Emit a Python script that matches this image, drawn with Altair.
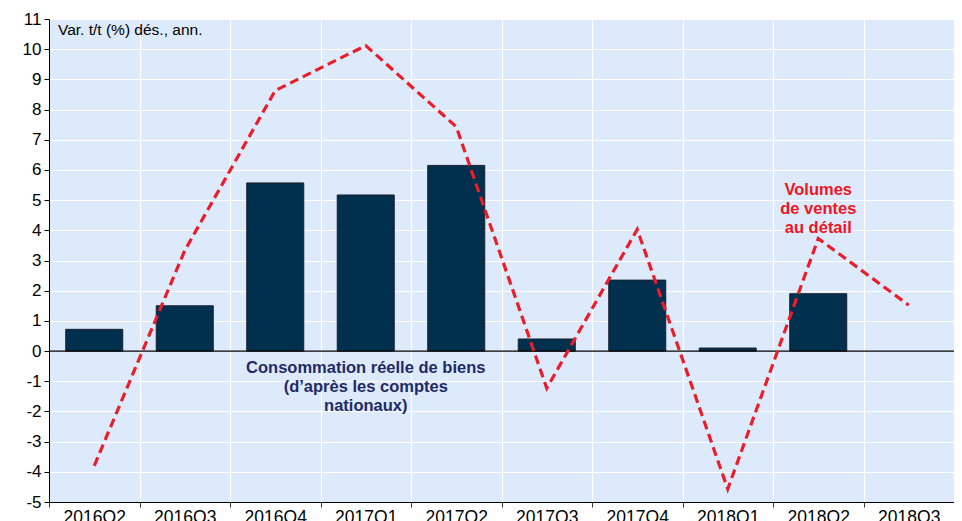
import altair as alt
import pandas as pd

quarters = ["2016Q2", "2016Q3", "2016Q4", "2017Q1", "2017Q2",
            "2017Q3", "2017Q4", "2018Q1", "2018Q2", "2018Q3"]
conso = [0.72, 1.5, 5.57, 5.17, 6.15, 0.4, 2.35, 0.1, 1.9, None]
ventes = [-3.8, 3.33, 8.63, 10.12, 7.43, -1.23, 4.03, -4.57, 3.73, 1.52]
y_ticks = list(range(-5, 12))

df = pd.DataFrame({"q": quarters, "conso": conso, "ventes": ventes})

x_scale = alt.Scale(domain=quarters, paddingInner=0, paddingOuter=0)
y_scale = alt.Scale(domain=[-5, 11], nice=False, zero=False)

x_axis = alt.Axis(labelAngle=0, tickBand="extent", labelFontSize=17.5,
                  labelFont="Liberation Sans", labelColor="black",
                  domainColor="black", tickColor="#333", tickSize=5,
                  gridColor="white", gridWidth=1.2, labelPadding=1,
                  labelOverlap=False)
y_axis = alt.Axis(values=y_ticks, tickCount=17, labelFontSize=17,
                  labelFont="Liberation Sans", labelColor="black",
                  labelExpr="datum.value + ''",
                  domainColor="black", tickColor="black", tickSize=5,
                  gridColor="white", gridWidth=1.2, labelPadding=3,
                  labelOverlap=False, minExtent=41, maxExtent=41)


def X():
    return alt.X("q:N", scale=x_scale, sort=quarters, title=None, axis=x_axis)


def Y(field):
    return alt.Y(field, scale=y_scale, axis=y_axis, title=None)


base = alt.Chart(df)

bars = base.mark_bar(color="#00304E", stroke="#1b2030", strokeWidth=1,
                     width=alt.RelativeBandSize(0.63)).encode(
    x=X(),
    y=Y("conso:Q"),
)

zero = alt.Chart(pd.DataFrame({"y": [0]})).mark_rule(color="black", strokeWidth=1.3).encode(
    y=Y("y:Q")
)

line = base.mark_line(color="#EA1D2A", strokeWidth=3.2, strokeDash=[9, 5]).encode(
    x=X(),
    y=Y("ventes:Q"),
)

ann_blue = alt.Chart(pd.DataFrame({"q": ["2017Q1"], "y": [-0.56],
                                   "t": ["Consommation réelle de biens\n(d’après les comptes\nnationaux)"]})
                     ).mark_text(font="Liberation Sans", fontSize=16.5, fontWeight="bold",
                                 color="#1F2A66", lineBreak="\n", lineHeight=19,
                                 baseline="middle", align="center").encode(
    x=X(),
    y=Y("y:Q"),
    text="t:N",
)

ann_red = alt.Chart(pd.DataFrame({"q": ["2018Q2"], "y": [5.33],
                                  "t": ["Volumes\nde ventes\nau détail"]})
                    ).mark_text(font="Liberation Sans", fontSize=16.5, fontWeight="bold",
                                color="#F0141E", lineBreak="\n", lineHeight=19,
                                baseline="middle", align="center").encode(
    x=X(),
    y=Y("y:Q"),
    text="t:N",
)

ann_unit = alt.Chart(pd.DataFrame({"t": ["Var. t/t (%) dés., ann."]})).mark_text(
    font="Liberation Sans", fontSize=15.5, color="black", align="left", baseline="middle"
).encode(x=alt.value(9), y=alt.value(11), text="t:N")

chart = alt.layer(bars, zero, line, ann_blue, ann_red, ann_unit).properties(
    width=905, height=483,
    padding={"left": 41, "top": 11, "right": 0, "bottom": 30},
    autosize=alt.AutoSizeParams(type="none"),
).configure_view(fill="#DDEAFB", stroke=None).configure_axis(grid=True)

chart.save("out.html", embed_options={"renderer": "svg", "actions": False})
